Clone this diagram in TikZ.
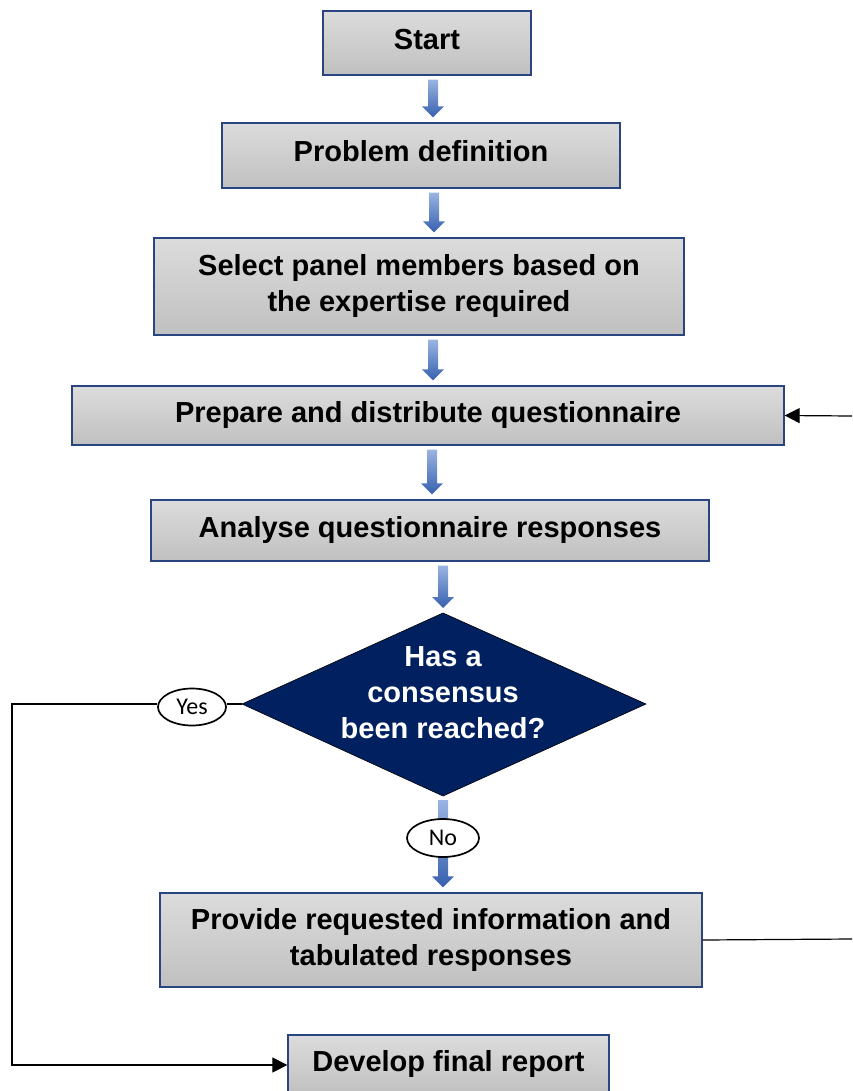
\documentclass[tikz,border=0pt]{standalone}
\usepackage{fontspec}
\setmainfont{Liberation Sans}
\newfontfamily\labelfont{Carlito}
\usetikzlibrary{calc,arrows.meta,shapes.geometric}

\definecolor{boxTop}{HTML}{DCDCDC}
\definecolor{boxBot}{HTML}{C0C0C0}
\definecolor{boxLine}{HTML}{2A4482}
\definecolor{arrowTop}{HTML}{9AB4E2}
\definecolor{arrowBot}{HTML}{3760AE}
\definecolor{decisionFill}{HTML}{002060}

\tikzset{
  stepbox/.style={rectangle, draw=boxLine, line width=1.3pt,
    top color=boxTop, bottom color=boxBot, inner sep=0pt,
    align=center, font=\fontsize{29}{36}\selectfont\bfseries},
  oneline/.style={text height=21pt, text depth=8pt},
  blockarrow/.style={top color=arrowTop, bottom color=arrowBot, draw=none},
  answer/.style={ellipse, draw=black, line width=1.7pt, fill=white,
    inner sep=0pt, font=\labelfont\fontsize{24}{28}\selectfont},
  link/.style={draw=black, line width=1.2pt},
  linkarrow/.style={link, -{Triangle[length=15pt,width=15pt]}}
}

% shaded block arrow from the lower side of #1 to the upper side of #2 at x=#3
\newcommand\flowarrow[3]{%
  \path[blockarrow] let \p1=(#1), \p2=(#2) in
    ({#3-5pt},{\y1-4pt}) -- ({#3+5pt},{\y1-4pt}) -- ({#3+5pt},{\y2+16pt})
    -- ({#3+11pt},{\y2+16pt}) -- ({#3},{\y2+5pt}) -- ({#3-11pt},{\y2+16pt})
    -- ({#3-5pt},{\y2+16pt}) -- cycle;}

\begin{document}
\begin{tikzpicture}[x=1pt,y=-1pt]
\useasboundingbox (0,0) rectangle (852,1091);

% process steps
\node[stepbox, oneline, minimum width=208, minimum height=64] (start) at (427,43) {Start};
\node[stepbox, oneline, minimum width=398, minimum height=65] (prob) at (421,155.5) {Problem definition};
\node[stepbox, minimum width=530, minimum height=97] (panel) at (419,286.5)
  {Select panel members based on\\the expertise required};
\node[stepbox, oneline, minimum width=712, minimum height=59] (prep) at (428,415.5)
  {Prepare and distribute questionnaire};
\node[stepbox, oneline, minimum width=558, minimum height=61] (anal) at (430,530.5)
  {Analyse questionnaire responses};
\node[stepbox, minimum width=542, minimum height=94] (prov) at (431,940)
  {Provide requested information and\\tabulated responses};
\node[stepbox, oneline, minimum width=321, minimum height=60] (dev) at (448.5,1065)
  {Develop final report};

% decision diamond
\coordinate (dtop) at (443,613);
\coordinate (dleft) at (242,704);
\coordinate (dright) at (646,704);
\coordinate (dbot) at (443,796);
\fill[decisionFill, draw=black, line width=0.6pt]
  (dtop) -- (dright) -- (dbot) -- (dleft) -- cycle;
\node[align=center, text=white, font=\fontsize{29}{36}\selectfont\bfseries]
  (dtext) at (443,693) {Has a\\consensus\\been reached?};

% main flow
\flowarrow{start.south}{prob.north}{433pt}
\flowarrow{prob.south}{panel.north}{434pt}
\flowarrow{panel.south}{prep.north}{433pt}
\flowarrow{prep.south}{anal.north}{432pt}
\flowarrow{anal.south}{dtop}{443pt}
\flowarrow{dbot}{prov.north}{443pt}

% answers
\node[answer, minimum width=68pt, minimum height=37pt] (yes) at (192,707) {Yes};
\node[answer, minimum width=72pt, minimum height=38pt] (no) at (443,838) {No};

% yes branch to the final report
\coordinate (ycorner) at (12,704);
\draw[link] (dleft) -- (dleft -| yes.east);
\draw[linkarrow] (ycorner -| yes.west) -- (ycorner) |- (dev.west);

% no branch back to the questionnaire
\coordinate (rlow) at (852,939);
\coordinate (rhigh) at (852,416);
\draw[link] (prov.east) -- (rlow);
\draw[linkarrow] (rhigh) -- (prep.east);
\end{tikzpicture}
\end{document}
